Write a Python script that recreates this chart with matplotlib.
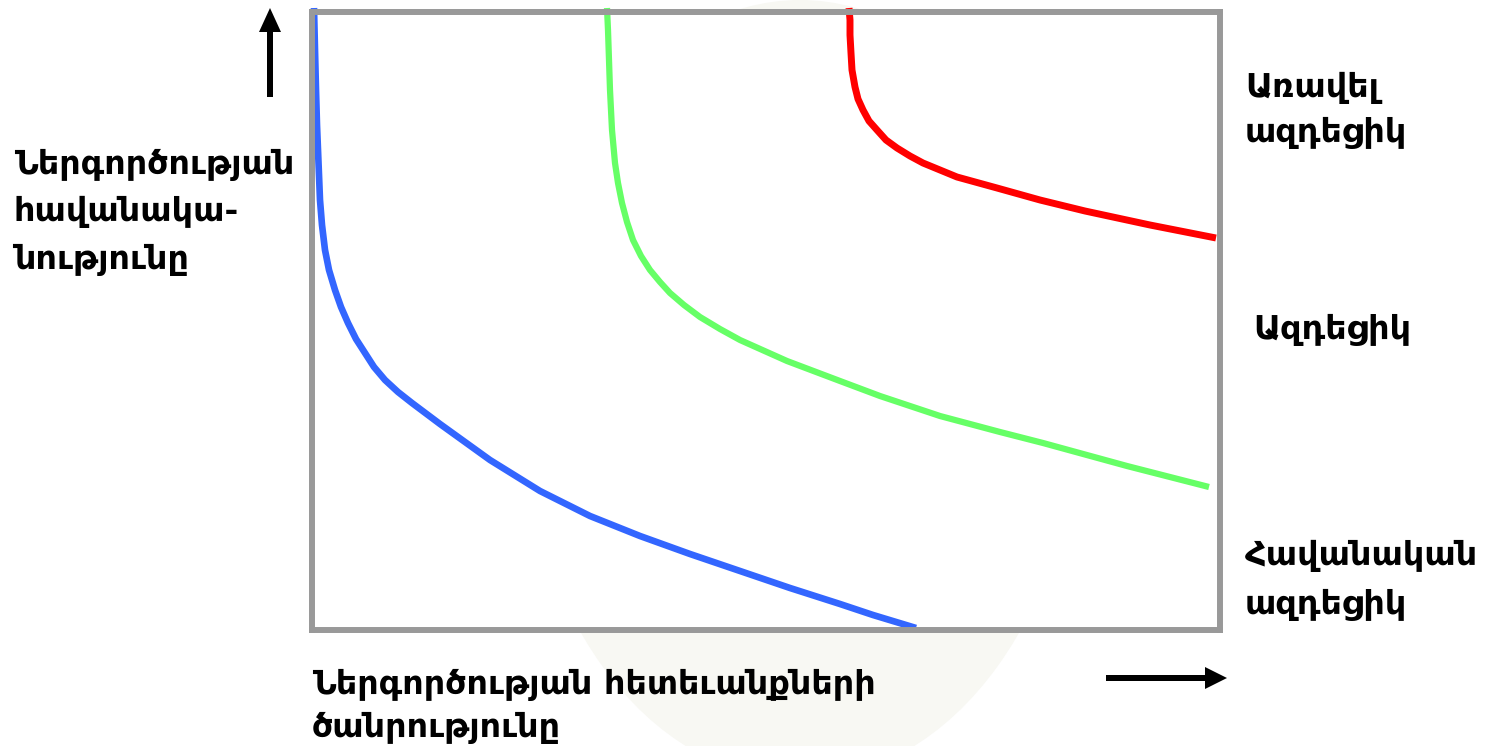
import matplotlib
matplotlib.use('Agg')
import matplotlib.pyplot as plt
from matplotlib.patches import Ellipse

# curves (x, y in picture pixels, y grows downward)
blue_x = [314, 315, 316, 317, 318, 320, 322, 325, 329, 335, 341, 348, 356, 365,
          374, 385, 398, 412, 440, 465, 490, 540, 590, 640, 690, 740, 790, 840,
          873, 916]
blue_y = [8, 50, 90, 125, 150, 200, 225, 250, 270, 290, 307, 323, 339, 353,
          367, 380, 392, 403, 424, 442, 460, 491, 516, 536, 554, 571, 588, 604,
          615, 628]

green_x = [607, 608, 609, 610, 611, 612, 615, 618, 622, 627, 633, 641, 650, 660,
           670, 684, 700, 720, 740, 787, 840, 880, 940, 1000, 1043, 1127, 1209]
green_y = [8, 30, 60, 90, 110, 130, 163, 183, 203, 222, 240, 256, 270, 282,
           293, 305, 317, 329, 340, 361, 381, 396, 416, 432, 443, 466, 487]

red_x = [849, 850, 850, 851, 852, 855, 858, 863, 869, 877, 886, 897, 910, 923,
         940, 957, 997, 1040, 1085, 1150, 1216]
red_y = [8, 20, 35, 53, 70, 87, 99, 110, 121, 130, 140, 148, 156, 163,
         170, 177, 188, 200, 211, 225, 238]

y_label = "Ներգործության\nհավանակա-\nնությունը"
x_label = "Ներգործության հետեւանքների\nծանրությունը"
lbl_high = "Առավել\nազդեցիկ"
lbl_mid = "Ազդեցիկ"
lbl_low = "Հավանական\nազդեցիկ"

W, H = 1488, 746
fig = plt.figure(figsize=(W / 100, H / 100), dpi=100)
fig.patch.set_facecolor('white')

# layer in pixel coordinates for watermark, arrows and text
lay = fig.add_axes([0, 0, 1, 1], zorder=0)
lay.set_xlim(0, W)
lay.set_ylim(H, 0)
lay.axis('off')
lay.add_patch(Ellipse((800, 390), 560, 780, color='#f8f8f3', lw=0))

# box with curves
x0, x1, y0, y1 = 312, 1220, 12, 630
ax = fig.add_axes([x0 / W, 1 - y1 / H, (x1 - x0) / W, (y1 - y0) / H], zorder=1)
ax.set_facecolor('white')
ax.set_xlim(x0, x1)
ax.set_ylim(y1, y0)
for s in ax.spines.values():
    s.set_color('#999999')
    s.set_linewidth(4.3)
ax.set_xticks([])
ax.set_yticks([])

line_kw = dict(clip_on=False, solid_capstyle='butt', solid_joinstyle='round')
ax.plot(blue_x, blue_y, color='#3366ff', lw=4.8, **line_kw)
ax.plot(green_x, green_y, color='#66ff66', lw=4.5, **line_kw)
ax.plot(red_x, red_y, color='#ff0000', lw=5.0, **line_kw)

# arrows
lay.arrow(270, 97, 0, -89, width=6, head_width=22, head_length=24,
          length_includes_head=True, color='black', lw=0)
lay.arrow(1106, 678, 121, 0, width=6, head_width=22, head_length=22,
          length_includes_head=True, color='black', lw=0)

font = dict(family='DejaVu Sans', fontweight='bold', fontsize=24, color='black',
            ha='left', va='center')
lay.text(14, 212, y_label, linespacing=1.55, **font)
lay.text(312, 706, x_label, linespacing=1.38, **font)
lay.text(1245, 110, lbl_high, linespacing=1.48, **font)
lay.text(1253, 330, lbl_mid, **font)
lay.text(1245, 580, lbl_low, linespacing=1.58, **font)

fig.savefig('out.png', dpi=100, facecolor='white')
